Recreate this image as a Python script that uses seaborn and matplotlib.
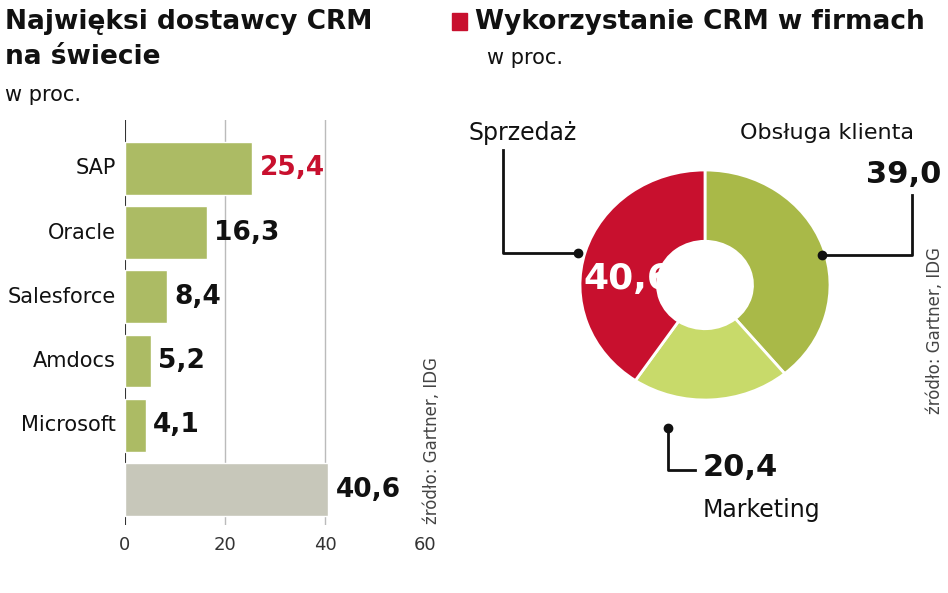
import matplotlib
matplotlib.use("Agg")
import matplotlib.pyplot as plt
import seaborn as sns
import pandas as pd

vendors = ["SAP", "Oracle", "Salesforce", "Amdocs", "Microsoft", "Inne"]
shares = [25.4, 16.3, 8.4, 5.2, 4.1, 40.6]
xticks = [0, 20, 40, 60]
use_labels = ["Obsługa klienta", "Marketing", "Sprzedaż"]
use_values = [39.0, 20.4, 40.6]

green = "#b5c955"
grey = "#c9c9b8"
red = "#c8102e"
pie_colors = ["#a9b948", "#c8da6a", red]

fig = plt.figure(figsize=(9.48, 5.93), dpi=100)
fig.patch.set_facecolor("white")

# bar panel
ax = fig.add_axes([125/948, 1-525/593, 300/948, (525-120)/593])
df = pd.DataFrame({"v": vendors, "s": shares})
pal = [green]*5 + [grey]
sns.barplot(data=df, x="s", y="v", hue="v", palette=pal, legend=False, ax=ax,
            width=0.82, edgecolor="white", linewidth=1)
ax.set_xlim(0, 60)
ax.set_xticks(xticks)
ax.set_xticklabels([str(t) for t in xticks], fontsize=13, color="#333")
ax.set_xlabel(""); ax.set_ylabel("")
ax.set_yticks([])
for s in ["top", "right", "left", "bottom"]:
    ax.spines[s].set_visible(False)
ax.tick_params(axis="x", length=0, pad=8)
for t in [20, 40]:
    ax.axvline(t, color="#bbbbbb", lw=1, zorder=0)
ax.axvline(0, color="#333", lw=1.5, zorder=0)
for i, (v, s) in enumerate(zip(vendors, shares)):
    ax.text(s + 1.5, i, f"{s:.1f}".replace(".", ","), va="center", ha="left",
            fontsize=19, fontweight="bold", color=red if i == 0 else "#111")
    if i < 5:
        ax.text(-0.03, i, v, transform=ax.get_yaxis_transform(), va="center",
                ha="right", fontsize=15, color="#111")
ax.set_ylim(5.55, -0.75)

fig.text(432/948, 1-440/593, "źródło: Gartner, IDG", rotation=90, fontsize=12,
         color="#444", ha="center", va="center")
fig.text(935/948, 1-330/593, "źródło: Gartner, IDG", rotation=90, fontsize=12,
         color="#444", ha="center", va="center")

# titles
fig.text(5/948, 1-22/593, "Najwięksi dostawcy CRM", fontsize=19, fontweight="bold",
         va="center", ha="left", color="#111")
fig.text(5/948, 1-57/593, "na świecie", fontsize=19, fontweight="bold",
         va="center", ha="left", color="#111")
fig.text(5/948, 1-95/593, "w proc.", fontsize=15, va="center", ha="left", color="#111")

fig.patches.append(plt.Rectangle((452/948, 1-30/593), 15/948, 17/593,
                                 transform=fig.transFigure, color=red))
fig.text(475/948, 1-22/593, "Wykorzystanie CRM w firmach", fontsize=19,
         fontweight="bold", va="center", ha="left", color="#111")
fig.text(487/948, 1-58/593, "w proc.", fontsize=15, va="center", ha="left", color="#111")

# donut
pax = fig.add_axes([(705-125)/948, 1-(285+115)/593, 250/948, 230/593])
wedges, _ = pax.pie(use_values, colors=pie_colors, startangle=90, counterclock=False,
                    wedgeprops=dict(width=0.62, edgecolor="white", linewidth=2))
pax.set_aspect("auto")
pax.set_xlim(-1, 1); pax.set_ylim(-1, 1)
pax.text(-0.62, 0.05, "40,6", fontsize=26, fontweight="bold", color="white",
         ha="center", va="center")

fig.text(468/948, 1-133/593, "Sprzedaż", fontsize=17, color="#111", va="center")
fig.add_artist(plt.Line2D([503/948, 503/948, 578/948], [1-150/593, 1-253/593, 1-253/593],
                          color="#111", lw=2))
fig.add_artist(plt.Line2D([578/948], [1-253/593], marker="o", color="#111", ms=6))
fig.text(740/948, 1-133/593, "Obsługa klienta", fontsize=16, color="#111", va="center")
fig.text(866/948, 1-175/593, "39,0", fontsize=22, fontweight="bold", color="#111", va="center")
fig.add_artist(plt.Line2D([822/948, 912/948, 912/948], [1-255/593, 1-255/593, 1-195/593],
                          color="#111", lw=2))
fig.add_artist(plt.Line2D([822/948], [1-255/593], marker="o", color="#111", ms=6))
fig.add_artist(plt.Line2D([668/948, 668/948, 695/948], [1-428/593, 1-470/593, 1-470/593],
                          color="#111", lw=2))
fig.add_artist(plt.Line2D([668/948], [1-428/593], marker="o", color="#111", ms=6))
fig.text(703/948, 1-468/593, "20,4", fontsize=22, fontweight="bold", color="#111", va="center")
fig.text(703/948, 1-510/593, "Marketing", fontsize=17, color="#111", va="center")

fig.savefig("out.png", dpi=100, facecolor="white")
